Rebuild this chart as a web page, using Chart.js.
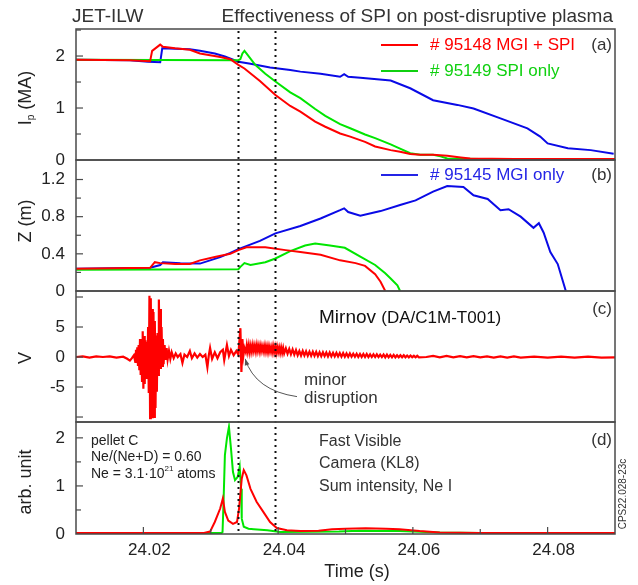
<!DOCTYPE html>
<html>
<head>
<meta charset="utf-8">
<script src="https://cdn.jsdelivr.net/npm/chart.js@4.4.1/dist/chart.umd.min.js"></script>
<style>
  html, body { margin: 0; padding: 0; background: #fff; }
  #wrap { width: 638px; height: 585px; }
</style>
</head>
<body>
<div id="wrap"><canvas id="c" width="638" height="585"></canvas></div>
<script>
/* Times are given in ms after 24.000 s */
const T0 = 24.0;
const X_MIN = 24.010, X_MAX = 24.090;
const MARKS_MS = [34.1, 39.6];           // dotted vertical lines

/* tick values per axis */
const xTicks = [24.01, 24.02, 24.03, 24.04, 24.05, 24.06, 24.07, 24.08, 24.09];
const aTicks = [0, 0.5, 1, 1.5, 2, 2.5];
const bTicks = [0, 0.2, 0.4, 0.6, 0.8, 1.0, 1.2];
const cTicks = [-10, -5, 0, 5, 10];
const dTicks = [0, 0.5, 1, 1.5, 2];

/* ── (a) plasma current, MA ── */
const ipRedMs   = [10, 18, 21.0, 21.3, 22.5, 22.9, 24.7, 26.9, 28.4, 31.4, 32.9, 34.1, 35.0, 37.3, 39.6, 41.8, 43.3, 45.5, 47.0, 49.2, 50.7, 52.9, 54.4, 56.7, 58.1, 59.6, 61.1, 63.0, 65.1, 67.1, 68.5, 75, 90.1];
const ipRed     = [1.93, 1.92, 1.90, 2.10, 2.22, 2.18, 2.15, 2.12, 2.05, 1.98, 1.94, 1.83, 1.76, 1.52, 1.25, 1.04, 0.93, 0.74, 0.64, 0.51, 0.45, 0.35, 0.26, 0.19, 0.16, 0.115, 0.10, 0.10, 0.08, 0.05, 0.03, 0.02, 0.02];
const ipGreenMs = [10, 34.1, 34.4, 34.7, 35.0, 35.3, 36.6, 38.1, 39.6, 41.8, 43.3, 45.5, 47.0, 49.2, 50.7, 52.9, 54.4, 56.7, 58.1, 59.6, 61.1, 63.0, 64.1, 65.1, 70, 90.1];
const ipGreen   = [1.93, 1.92, 1.94, 2.05, 2.10, 2.05, 1.83, 1.66, 1.51, 1.30, 1.19, 0.98, 0.85, 0.69, 0.61, 0.49, 0.42, 0.30, 0.22, 0.13, 0.10, 0.10, 0.07, 0.03, 0.02, 0.02];
const ipBlueMs  = [10, 18, 20.7, 22.5, 22.8, 24.7, 26.9, 28.4, 30.6, 32.1, 34.1, 35.9, 38.8, 41.8, 43.3, 46.3, 49.2, 49.8, 50.4, 52.2, 56.7, 59.6, 63.0, 66.6, 69.0, 73.0, 77.0, 78.9, 80.0, 83.0, 86.4, 89.8];
const ipBlue    = [1.93, 1.92, 1.89, 1.88, 2.15, 2.14, 2.13, 2.10, 2.05, 1.99, 1.89, 1.85, 1.78, 1.73, 1.70, 1.66, 1.60, 1.65, 1.60, 1.58, 1.53, 1.38, 1.15, 1.06, 0.99, 0.80, 0.61, 0.45, 0.32, 0.225, 0.19, 0.12];

/* ── (b) vertical position Z, m ── */
const zRedMs    = [10, 21.0, 21.7, 22.5, 24.7, 26.9, 28.4, 30.6, 32.9, 34.1, 35.3, 38.1, 41.1, 43.3, 46.3, 49.2, 51.5, 52.9, 54.4, 55.2, 55.9];
const zRed      = [0.24, 0.25, 0.31, 0.30, 0.29, 0.29, 0.33, 0.365, 0.40, 0.44, 0.47, 0.47, 0.44, 0.42, 0.39, 0.33, 0.30, 0.27, 0.18, 0.10, 0.0];
const zGreenMs  = [10, 34.1, 34.4, 35.0, 35.9, 38.1, 39.6, 41.8, 44.0, 45.5, 47.7, 49.9, 52.2, 54.4, 55.9, 56.7, 57.7, 58.1];
const zGreen    = [0.23, 0.235, 0.26, 0.30, 0.28, 0.31, 0.35, 0.43, 0.49, 0.51, 0.49, 0.465, 0.37, 0.28, 0.19, 0.135, 0.06, 0.0];
const zBlueMs   = [10, 21.0, 22.5, 22.9, 25.5, 28.4, 31.4, 32.9, 34.1, 37.3, 39.6, 43.3, 46.3, 49.2, 49.8, 50.4, 52.2, 55.2, 58.1, 60.4, 63.0, 65.1, 67.5, 69.0, 71.1, 73.0, 74.2, 76.0, 77.9, 78.7, 79.4, 80.4, 81.5, 82.7];
const zBlue     = [0.24, 0.25, 0.28, 0.31, 0.30, 0.295, 0.365, 0.41, 0.45, 0.54, 0.62, 0.70, 0.78, 0.87, 0.89, 0.85, 0.81, 0.86, 0.925, 0.975, 1.07, 1.13, 1.12, 1.03, 0.99, 0.87, 0.88, 0.80, 0.68, 0.73, 0.63, 0.42, 0.29, 0.0];

/* ── (c) Mirnov coil signal: [ms, V] ── */
const mirnov = [
  [10, 0], [11, 0.1], [12, -0.1], [13, 0.1], [14, 0], [15, 0.1], [16, -0.1], [17, 0.05], [17.6, -0.3], [18.0, -0.6], [18.3, -0.2], [18.6, 0.3], [18.8, -0.8],
  // burst
  [18.9, 1.2], [19.0, -1.0], [19.1, 1.6], [19.2, -1.5], [19.3, 2.0], [19.4, -2.2], [19.5, 3.0], [19.6, -3.0], [19.7, 2.5], [19.8, -4.0],
  [19.9, 4.3], [20.0, -5.3], [20.1, 3.5], [20.2, -4.5], [20.3, 2.8], [20.4, -3.5], [20.5, 2.5], [20.6, -3.0], [20.7, 5.0], [20.8, -6.0],
  [20.9, 10.2], [21.0, -10.2], [21.1, 9.8], [21.2, -9.5], [21.3, 8.0], [21.4, -10.2], [21.5, 7.5], [21.6, -10.0], [21.7, 6.0], [21.8, -8.5],
  [21.9, 3.6], [22.0, -5.8], [22.1, 4.0], [22.2, -3.0], [22.3, 9.6], [22.4, -1.0], [22.5, 8.0], [22.6, -2.0], [22.7, 5.0], [22.8, -1.5],
  [22.9, 3.0], [23.0, -1.2],
  // after the burst
  [23.15, 2.0], [23.3, -0.5], [23.45, 1.5], [23.6, -0.4], [23.8, 1.0], [24.0, -0.3], [24.2, 0.8], [24.5, -0.2], [24.8, 0.6], [25.1, 0.0],
  [25.5, 0.5], [25.8, -1.0], [26.1, 0.4], [26.5, 0.0], [26.9, 1.0], [27.2, -0.2], [27.6, 0.6], [28.0, -0.1], [28.4, 0.5], [28.8, 0.0],
  [29.2, 0.4], [29.5, -1.7], [29.7, 0.2], [29.9, 1.5], [30.2, -0.3], [30.6, 0.8], [31.0, -0.2], [31.4, 0.8], [31.8, 1.2], [32.0, -0.5],
  [32.4, 2.0], [32.7, 0.2], [33.0, 1.2], [33.4, 0.3], [33.8, 1.0], [34.1, 0.4],
  // minor disruption spike
  [34.4, 4.8], [34.55, -2.5], [34.7, 3.0], [34.85, 0.3], [35.0, 1.5],
  // thick band
  [35.2, 0.8], [35.35, 2.0], [35.5, 0.9], [35.65, 2.0], [35.8, 0.8], [35.95, 1.9], [36.1, 0.9], [36.25, 2.0], [36.4, 1.0], [36.55, 1.9],
  [36.7, 0.9], [36.85, 2.0], [37.0, 1.0], [37.15, 1.9], [37.3, 0.9], [37.45, 1.9], [37.6, 1.0], [37.75, 1.8], [37.9, 0.9], [38.05, 1.9],
  [38.2, 0.9], [38.35, 1.8], [38.5, 0.8], [38.65, 1.8], [38.8, 0.9], [38.95, 1.7], [39.1, 0.8], [39.25, 1.8], [39.4, 0.8], [39.55, 1.7],
  [39.7, 0.7], [39.85, 1.7], [40.0, 0.8], [40.15, 1.6], [40.3, 0.7], [40.45, 1.6], [40.6, 0.7], [40.75, 1.5], [40.9, 0.6],
  [41.15, 1.45], [41.4, 0.55], [41.65, 1.35], [41.9, 0.45], [42.15, 1.25], [42.4, 0.4], [42.65, 1.15], [42.9, 0.3], [43.15, 1.0], [43.4, 0.25],
  [43.65, 1.0], [43.9, 0.25], [44.15, 0.95], [44.4, 0.2], [44.65, 0.9], [44.9, 0.2], [45.15, 0.9], [45.4, 0.2], [45.65, 0.85], [45.9, 0.15],
  [46.15, 0.8], [46.4, 0.15], [46.65, 0.8], [46.9, 0.15], [47.15, 0.75], [47.4, 0.1], [47.65, 0.75], [47.9, 0.1], [48.15, 0.7], [48.4, 0.1],
  [48.65, 0.7], [48.9, 0.1], [49.15, 0.65], [49.4, 0.05], [49.65, 0.65], [49.9, 0.05], [50.15, 0.6], [50.4, 0.05], [50.65, 0.6], [50.9, 0.05],
  [51.15, 0.55], [51.4, 0.05], [51.65, 0.55], [51.9, 0.0], [52.15, 0.5], [52.4, 0.0], [52.65, 0.5], [52.9, 0.0], [53.15, 0.5], [53.4, 0.0],
  [53.65, 0.45], [53.9, 0.0], [54.15, 0.45], [54.4, 0.0], [54.65, 0.45], [54.9, 0.0], [55.15, 0.4], [55.4, 0.0], [55.65, 0.4], [55.9, -0.05],
  [56.15, 0.4], [56.4, -0.05], [56.65, 0.35], [56.9, -0.05], [57.15, 0.35], [57.4, -0.05], [57.65, 0.3], [57.9, -0.05], [58.15, 0.3], [58.4, -0.05],
  [58.65, 0.3], [58.9, -0.05], [59.15, 0.25], [59.4, -0.05], [59.65, 0.25], [59.9, -0.05], [60.15, 0.2], [60.4, -0.05], [60.65, 0.2], [60.9, -0.05],
  // tail
  [62, 0.0], [63, 0.2], [64, -0.05], [65, 0.2], [66, -0.05], [67, 0.15], [68, -0.05], [69, 0.15], [70, -0.05], [71, 0.1],
  [72, -0.1], [73, 0.1], [74, -0.1], [75, 0.1], [76, -0.1], [78, 0.05], [80, -0.1], [82, 0.05], [84, -0.1], [86, 0.05], [88, -0.1], [90.1, -0.05],
];

/* ── (d) fast visible camera, Ne I sum intensity, arb. unit ── */
const camRedMs   = [10, 29.0, 29.9, 30.6, 31.4, 31.8, 32.1, 32.6, 33.3, 33.9, 34.2, 34.6, 34.9, 35.3, 35.9, 36.8, 37.8, 38.8, 39.8, 41.3, 43.3, 46, 48, 50, 53, 56, 58, 61, 64, 70, 90.1];
const camRed     = [0.02, 0.02, 0.05, 0.25, 0.53, 0.74, 0.46, 0.28, 0.21, 0.25, 0.53, 1.15, 1.33, 1.22, 0.94, 0.67, 0.46, 0.25, 0.125, 0.08, 0.06, 0.07, 0.10, 0.11, 0.12, 0.11, 0.10, 0.06, 0.03, 0.02, 0.02];
const camGreenMs = [10, 31.6, 31.75, 31.9, 32.1, 32.4, 32.7, 33.0, 33.3, 33.6, 34.0, 34.3, 34.5, 34.6, 34.9, 35.6, 36.4, 38.4, 40.3, 49, 52, 58, 64, 70, 90.1];
const camGreen   = [0.02, 0.02, 0.04, 0.67, 1.64, 1.99, 2.23, 1.78, 1.29, 1.12, 1.19, 1.40, 0.94, 0.32, 0.15, 0.11, 0.10, 0.08, 0.04, 0.05, 0.07, 0.06, 0.03, 0.02, 0.02];

/* ── styling ── */
const RED = '#ff0000', GREEN = '#00e600', BLUE = '#0a0ae6';
const INK = '#222', FRAME = '#4a4a4a';
const FONT = "'Liberation Sans', Arial, sans-serif";
const f = px => px + 'px ' + FONT;

const pts = (ms, v) => ms.map((m, i) => ({ x: T0 + m / 1000, y: v[i] }));
const line = (data, color, axis, w = 2) => ({
  data, yAxisID: axis, borderColor: color, borderWidth: w,
  pointRadius: 0, tension: 0, fill: false,
});
const setTicks = list => s => { s.ticks = list.map(value => ({ value })); };
const near = (v, k) => Math.abs(v / k - Math.round(v / k)) < 1e-6;

/* panel axes: stacked top to bottom, weights follow panel heights */
function yAxis(weight, stackWeight, min, max, list, label) {
  return {
    type: 'linear', position: 'left', stack: 'panels', stackWeight, weight,
    min, max, grid: { display: false, drawTicks: false }, border: { display: false },
    afterBuildTicks: setTicks(list),
    ticks: { autoSkip: false, padding: 11, color: INK, font: { family: FONT, size: 17 }, callback: label },
    afterFit: s => { s.width = 76; },
  };
}

/* inward tick marks, frames, marks and labels */
const decor = {
  id: 'decor',
  afterDatasetsDraw(chart) {
    const { ctx, chartArea: a, scales } = chart;
    const X = scales.x;
    const panels = ['ya', 'yb', 'yc', 'yd'].map(id => scales[id]);

    ctx.save();
    // dotted markers
    ctx.strokeStyle = '#111'; ctx.lineWidth = 2; ctx.setLineDash([2, 4]);
    MARKS_MS.forEach(m => {
      const x = Math.round(X.getPixelForValue(T0 + m / 1000)) + 0.5;
      ctx.beginPath(); ctx.moveTo(x, a.top + 2); ctx.lineTo(x, a.bottom); ctx.stroke();
    });
    ctx.setLineDash([]);

    // frames
    ctx.strokeStyle = FRAME; ctx.lineWidth = 1.5;
    panels.forEach(s => ctx.strokeRect(a.left, s.top, a.right - a.left, s.bottom - s.top));

    // y ticks (inward)
    const majorStep = { ya: 1, yb: 0.4, yc: 5, yd: 1 };
    ctx.lineWidth = 1.2;
    panels.forEach(s => {
      s.ticks.forEach(t => {
        const y = s.getPixelForValue(t.value);
        if (y <= s.top + 1 || y >= s.bottom - 1) return;
        const len = near(t.value, majorStep[s.id]) ? 7 : 5;
        ctx.beginPath(); ctx.moveTo(a.left, y); ctx.lineTo(a.left + len, y); ctx.stroke();
      });
    });
    // x ticks (inward, bottom panel)
    X.ticks.forEach(t => {
      const x = X.getPixelForValue(t.value);
      if (x <= a.left + 1 || x >= a.right - 1) return;
      const len = near(t.value, 0.02) ? 7 : 5;
      ctx.beginPath(); ctx.moveTo(x, a.bottom); ctx.lineTo(x, a.bottom - len); ctx.stroke();
    });

    // helpers
    const text = (s, x, y, size, color = INK, align = 'left') => {
      ctx.font = f(size); ctx.fillStyle = color; ctx.textAlign = align; ctx.textBaseline = 'middle';
      ctx.fillText(s, x, y);
    };
    const runs = (parts, x, y, color = INK) => {       // [text, size, dy]
      ctx.fillStyle = color; ctx.textAlign = 'left'; ctx.textBaseline = 'middle';
      parts.forEach(([s, size, dy]) => { ctx.font = f(size); ctx.fillText(s, x, y + (dy || 0)); x += ctx.measureText(s).width; });
    };
    const vlabel = (parts, cx, cy, color = INK) => {
      ctx.save(); ctx.translate(cx, cy); ctx.rotate(-Math.PI / 2);
      let w = 0;
      parts.forEach(([s, size]) => { ctx.font = f(size); w += ctx.measureText(s).width; });
      runs(parts, -w / 2, 0, color);
      ctx.restore();
    };

    // titles
    text('JET-ILW', 72, 17, 19, '#333');
    text('Effectiveness of SPI on post-disruptive plasma', 613, 17, 19, '#333', 'right');

    // legends
    const leg = (y, color, label) => {
      ctx.strokeStyle = color; ctx.lineWidth = 2;
      ctx.beginPath(); ctx.moveTo(381, y); ctx.lineTo(418, y); ctx.stroke();
      text(label, 430, y, 17, color);
    };
    leg(45, RED, '# 95148 MGI + SPI');
    leg(71, '#10d010', '# 95149 SPI only');
    leg(175, '#2424e6', '# 95145 MGI only');

    // panel tags
    text('(a)', 612, 45, 17, '#333', 'right');
    text('(b)', 612, 175, 17, '#333', 'right');
    text('(c)', 612, 309, 17, '#333', 'right');
    text('(d)', 612, 440, 17, '#333', 'right');

    // axis titles
    vlabel([['I', 18], ['p', 10, 5], [' (MA)', 18]], 26, 98);
    vlabel([['Z (m)', 18]], 26, 221);
    vlabel([['V', 18]], 26, 358);
    vlabel([['arb. unit', 18]], 26, 482);
    text('Time (s)', 357, 572, 18, INK, 'center');

    // panel (c) notes
    runs([['Mirnov ', 19], ['(DA/C1M-T001)', 17]], 319, 318, '#111');
    text('minor', 304, 380, 17, '#333');
    text('disruption', 304, 398, 17, '#333');
    const C = scales.yc;
    const px = ms => X.getPixelForValue(T0 + ms / 1000);
    const sx = px(42.8), sy = C.getPixelForValue(-6.6);
    const cx = px(36.6), cy = C.getPixelForValue(-5.6);
    const ex = px(35.1), ey = C.getPixelForValue(-0.3);
    ctx.strokeStyle = '#555'; ctx.fillStyle = '#555'; ctx.lineWidth = 1;
    ctx.beginPath(); ctx.moveTo(sx, sy); ctx.quadraticCurveTo(cx, cy, ex, ey); ctx.stroke();
    const ang = Math.atan2(ey - cy, ex - cx);
    ctx.beginPath();
    ctx.moveTo(ex, ey);
    ctx.lineTo(ex - 7 * Math.cos(ang - 0.35), ey - 7 * Math.sin(ang - 0.35));
    ctx.lineTo(ex - 7 * Math.cos(ang + 0.35), ey - 7 * Math.sin(ang + 0.35));
    ctx.closePath(); ctx.fill();

    // panel (d) notes
    text('pellet C', 91, 441, 14, '#222');
    text('Ne/(Ne+D) = 0.60', 91, 457, 14, '#222');
    runs([['Ne = 3.1·10', 14], ['21', 8, -5], [' atoms', 14]], 91, 474, '#222');
    text('Fast Visible', 319, 442, 16, '#333');
    text('Camera (KL8)', 319, 464, 16, '#333');
    text('Sum intensity, Ne I', 319, 487, 16, '#333');
    vlabel([['CPS22.028-23c', 10]], 623, 494, '#333');
    ctx.restore();
  },
};

new Chart(document.getElementById('c'), {
  type: 'line',
  data: {
    datasets: [
      line(pts(ipRedMs, ipRed), RED, 'ya'),
      line(pts(ipGreenMs, ipGreen), GREEN, 'ya'),
      line(pts(ipBlueMs, ipBlue), BLUE, 'ya'),
      line(pts(zRedMs, zRed), RED, 'yb'),
      line(pts(zGreenMs, zGreen), GREEN, 'yb'),
      line(pts(zBlueMs, zBlue), BLUE, 'yb'),
      line(mirnov.map(([m, v]) => ({ x: T0 + m / 1000, y: v })), RED, 'yc', 2.2),
      line(pts(camRedMs, camRed), RED, 'yd'),
      line(pts(camGreenMs, camGreen), GREEN, 'yd'),
    ],
  },
  options: {
    responsive: false,
    animation: false,
    parsing: false,
    layout: { padding: { left: 0, right: 23, top: 29, bottom: 0 } },
    plugins: { legend: { display: false }, tooltip: { enabled: false } },
    scales: {
      x: {
        type: 'linear', min: X_MIN, max: X_MAX,
        grid: { display: false, drawTicks: false }, border: { display: false },
        afterBuildTicks: setTicks(xTicks),
        ticks: {
          autoSkip: false, maxRotation: 0, padding: 6, labelOffset: 6,
          color: INK, font: { family: FONT, size: 17 },
          callback: v => (Math.round(v * 100) % 2 === 0 ? v.toFixed(2) : ''),
        },
        afterFit: s => { s.height = 51; },
      },
      ya: yAxis(4, 131, 0, 2.52, aTicks, v => (near(v, 1) ? String(Math.round(v)) : '')),
      yb: yAxis(3, 131, 0, 1.41, bTicks, v => (near(v, 0.4) ? (Math.abs(v) < 1e-6 ? '0' : v.toFixed(1)) : '')),
      yc: yAxis(2, 131, -10.83, 11, cTicks, v => (Math.abs(v) < 6 ? String(Math.round(v)) : '')),
      yd: yAxis(1, 112, 0, 2.33, dTicks, v => (near(v, 1) ? String(Math.round(v)) : '')),
    },
  },
  plugins: [decor],
});
</script>
</body>
</html>
